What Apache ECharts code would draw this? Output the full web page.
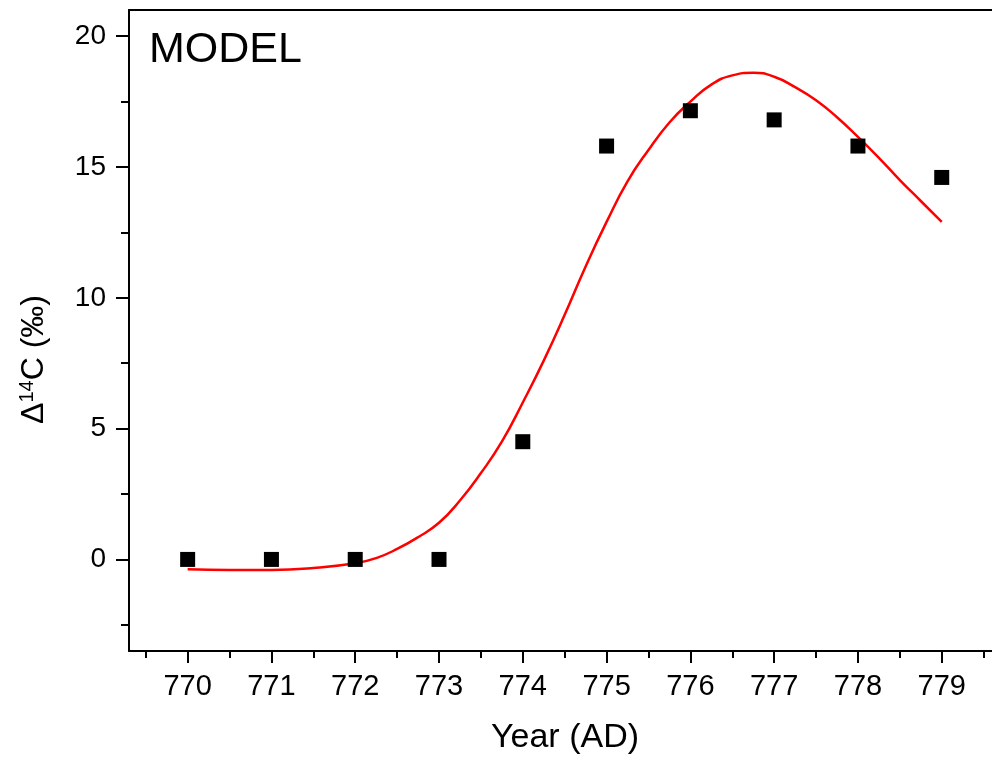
<!DOCTYPE html>
<html>
<head>
<meta charset="utf-8">
<script src="https://cdn.jsdelivr.net/npm/echarts@6/dist/echarts.min.js"></script>
<style>html,body{margin:0;padding:0;background:#fff}#chart{width:992px;height:762px}</style>
</head>
<body>
<div id="chart"></div>
<script>
// Measured data points
var years = [770, 771, 772, 773, 774, 775, 776, 777, 778, 779];
var d14c = [0, 0, 0, 0, 4.5, 15.8, 17.15, 16.8, 15.8, 14.6];

// Model curve
var curveYears = [770, 770.5, 771, 771.5, 772, 772.25, 772.5, 772.75, 773, 773.25, 773.5, 773.75, 774, 774.25, 774.5, 774.75, 775, 775.25, 775.5, 775.75, 776, 776.25, 776.5, 776.75, 777, 777.25, 777.5, 777.75, 778, 778.25, 778.5, 778.75, 779];
var curveValues = [-0.38, -0.4, -0.4, -0.33, -0.15, 0.05, 0.4, 0.85, 1.4, 2.25, 3.3, 4.5, 6.0, 7.6, 9.35, 11.2, 12.9, 14.45, 15.65, 16.7, 17.5, 18.15, 18.5, 18.6, 18.45, 18.05, 17.55, 16.9, 16.15, 15.35, 14.5, 13.7, 12.9];

// Tick labels
var xMajorTicks = [770, 771, 772, 773, 774, 775, 776, 777, 778, 779];
var xMinorTicks = [769.5, 770.5, 771.5, 772.5, 773.5, 774.5, 775.5, 776.5, 777.5, 778.5, 779.5];
var yMajorTicks = [0, 5, 10, 15, 20];
var yMinorTicks = [-2.5, 2.5, 7.5, 12.5, 17.5];

var FONT = 'Liberation Sans';
var XMIN = 769.3, XMAX = 779.6, YMIN = -3.5, YMAX = 21;

var scatterData = years.map(function (y, i) { return [y, d14c[i]]; });
var curveData = curveYears.map(function (y, i) { return [y, curveValues[i]]; });

var chart = echarts.init(document.getElementById('chart'), null, {renderer: 'canvas'});
chart.setOption({
  animation: false,
  backgroundColor: '#ffffff',
  title: {
    text: 'MODEL',
    left: 144,
    top: 24,
    textStyle: {fontFamily: FONT, fontSize: 43, fontWeight: 'normal', color: '#000'}
  },
  grid: {left: 129, top: 10, right: 0, bottom: 111, containLabel: false},
  xAxis: [
    {
      type: 'value', position: 'bottom', min: XMIN, max: XMAX,
      axisLine: {show: true, onZero: false, lineStyle: {color: '#000', width: 2}},
      axisTick: {show: true, customValues: xMajorTicks, length: 12, lineStyle: {color: '#000', width: 2}},
      axisLabel: {show: true, customValues: xMajorTicks, margin: 21, fontFamily: FONT, fontSize: 29, color: '#000'},
      splitLine: {show: false},
      name: 'Year (AD)', nameLocation: 'middle', nameGap: 70,
      nameTextStyle: {fontFamily: FONT, fontSize: 34, color: '#000', padding: [0, 0, 0, 9]}
    },
    {
      type: 'value', position: 'bottom', min: XMIN, max: XMAX,
      axisLine: {show: false, onZero: false},
      axisTick: {show: true, customValues: xMinorTicks, length: 7, lineStyle: {color: '#000', width: 2}},
      axisLabel: {show: false},
      splitLine: {show: false}
    },
    {
      type: 'value', position: 'top', min: XMIN, max: XMAX,
      axisLine: {show: true, onZero: false, lineStyle: {color: '#000', width: 2}},
      axisTick: {show: false}, axisLabel: {show: false}, splitLine: {show: false}
    }
  ],
  yAxis: [
    {
      type: 'value', position: 'left', min: YMIN, max: YMAX,
      axisLine: {show: true, onZero: false, lineStyle: {color: '#000', width: 2}},
      axisTick: {show: true, customValues: yMajorTicks, length: 13, lineStyle: {color: '#000', width: 2}},
      axisLabel: {show: true, customValues: yMajorTicks, margin: 23, fontFamily: FONT, fontSize: 28, color: '#000'},
      splitLine: {show: false},
      name: '{a|Δ}{s|14}{a|C (‰)}', nameLocation: 'middle', nameGap: 78, nameRotate: 90,
      nameTextStyle: {
        fontFamily: FONT, fontSize: 32, color: '#000', padding: [0, 58, 0, 0],
        rich: {
          a: {fontFamily: FONT, fontSize: 32, color: '#000'},
          s: {fontFamily: FONT, fontSize: 20, color: '#000', padding: [0, 0, 14, 0]}
        }
      }
    },
    {
      type: 'value', position: 'left', min: YMIN, max: YMAX,
      axisLine: {show: false, onZero: false},
      axisTick: {show: true, customValues: yMinorTicks, length: 8, lineStyle: {color: '#000', width: 2}},
      axisLabel: {show: false},
      splitLine: {show: false}
    }
  ],
  series: [
    {
      type: 'line', xAxisIndex: 0, yAxisIndex: 0,
      data: curveData, smooth: true, showSymbol: false, symbol: 'none',
      lineStyle: {color: '#ff0000', width: 2.5}, z: 2
    },
    {
      type: 'scatter', xAxisIndex: 0, yAxisIndex: 0,
      data: scatterData, symbol: 'rect', symbolSize: 15,
      itemStyle: {color: '#000', opacity: 1}, z: 3
    }
  ]
});
</script>
</body>
</html>
